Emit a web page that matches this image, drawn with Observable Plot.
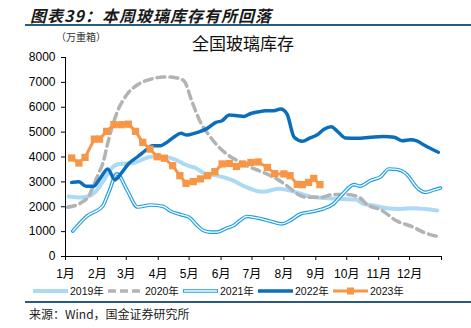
<!DOCTYPE html>
<html>
<head>
<meta charset="utf-8">
<script src="https://cdn.jsdelivr.net/npm/d3@7"></script>
<script src="https://cdn.jsdelivr.net/npm/@observablehq/plot@0.6"></script>
<style>
  html, body { margin: 0; padding: 0; background: #fff; }
  body { width: 471px; height: 328px; position: relative; overflow: hidden; color: #000;
         font-family: "Liberation Sans", "Noto Sans CJK SC", sans-serif; }
  .abs { position: absolute; white-space: nowrap; }
  #title { left: 30px; top: 3px; font-size: 16px; font-weight: bold; font-style: italic; letter-spacing: 1px;
           font-family: "Noto Sans CJK SC", sans-serif; color: #1a1a1a; }
  .rule { position: absolute; left: 25px; width: 446px; height: 2px; background: #2a5a7e; }
  #unit { left: 56px; top: 29px; font-size: 10px; font-family: "Noto Sans CJK SC", sans-serif; color: #333; }
  #ctitle { left: 0; width: 486px; text-align: center; top: 30px; font-size: 17px; font-family: "Noto Sans CJK SC", sans-serif; color: #111; }
  #chart { left: 0; top: 50px; }
  #legend { left: 0; top: 283px; }
  #source { left: 29px; top: 305px; font-size: 12px; font-family: "Noto Sans CJK SC", sans-serif; color: #222; }
</style>
</head>
<body>
<div id="title" class="abs">图表39：本周玻璃库存有所回落</div>
<div class="rule" style="top:24px"></div>
<div id="unit" class="abs">（万重箱）</div>
<div id="ctitle" class="abs">全国玻璃库存</div>
<div id="chart" class="abs"></div>
<div id="legend" class="abs"></div>
<div class="rule" style="top:301px; height:1.5px"></div>
<div id="source" class="abs">来源：Wind，国金证券研究所</div>
<script>
// ---- data (day of year, value in 万重箱) ----
const months = ["1月","2月","3月","4月","5月","6月","7月","8月","9月","10月","11月","12月"];
const monthStarts = [0,31,59,90,120,151,181,212,243,273,304,334,365];
const yTicks = [0,1000,2000,3000,4000,5000,6000,7000,8000];
const years = ["2019年","2020年","2021年","2022年","2023年"];

const days2019 = [3,15,24,31,37,44,52,60,68,76,83,92,100,107,115,121,125,136,147,160,176,191,207,218,231,238,251,267,282,288,299,312,325,338,349,361];
const vals2019 = [2410,2370,2450,2700,3050,3520,3720,3740,3780,3920,4010,4010,3980,3890,3720,3620,3580,3320,3250,3100,2780,2600,2720,2650,2490,2400,2350,2310,2290,2140,2050,1940,1910,1940,1910,1850];

const days2020 = [2,15,23,27,32,37,40,50,60,71,83,95,107,115,123,131,139,147,157,167,176,192,205,217,225,235,248,260,273,285,293,306,322,336,349,360];
const vals2020 = [1980,2160,2450,2850,3320,3850,4390,5790,6530,6930,7130,7220,7190,7060,6200,5400,4890,4480,4100,3850,3650,3380,3120,2780,2510,2380,2380,2490,2490,2380,2080,1880,1420,1210,950,820];

const days2021 = [7,21,36,42,50,60,70,83,95,102,112,120,128,134,141,147,157,163,170,176,186,199,210,218,228,238,249,260,269,280,286,296,306,314,322,330,343,349,358,364];
const vals2021 = [1020,1630,2020,2580,3320,2650,1990,2070,2010,1820,1680,1580,1240,1040,980,980,1150,1240,1470,1610,1550,1420,1310,1440,1710,1790,1900,2110,2510,2890,2830,3050,3210,3520,3500,3350,2700,2580,2680,2750];

const days2022 = [6,13,20,27,34,41,48,54,61,70,78,84,92,97,105,112,118,125,131,138,146,152,159,167,173,180,188,194,202,209,215,222,230,237,244,251,258,264,272,283,296,309,319,327,335,341,348,354,362];
const vals2022 = [2980,3010,2820,2820,3160,3520,3080,3340,3720,4010,4280,4450,4450,4550,4790,4950,4880,4950,5030,5160,5390,5460,5690,5660,5630,5750,5820,5860,5860,5930,5730,4790,4630,4760,4880,5120,5220,5030,4760,4750,4790,4820,4790,4650,4690,4650,4480,4350,4190];

const days2023 = [6,13,19,28,33,40,47,54,61,68,75,82,89,96,104,111,117,124,131,138,145,152,159,166,172,180,187,196,203,212,218,225,230,236,241,247];
const vals2023 = [3960,3760,3985,4720,4720,5030,5300,5300,5320,5030,4590,4320,4010,3950,3650,3250,2940,3010,3120,3250,3410,3720,3740,3620,3720,3780,3800,3580,3330,3320,3250,2900,2890,2980,3140,2890];

// ---- styles ----
const colors = {"2019年":"#acd9f3","2020年":"#b3b3b3","2021年":"#1f9de3","2022年":"#0a6ebd","2023年":"#f79646"};

const toRows = (days, vals) => days.map((d, i) => ({day: d, value: vals[i]}));
const s2019 = toRows(days2019, vals2019);
const s2020 = toRows(days2020, vals2020);
const s2021 = toRows(days2021, vals2021);
const s2022 = toRows(days2022, vals2022);
const s2023 = toRows(days2023, vals2023);

const chart = Plot.plot({
  width: 471, height: 230,
  marginTop: 7, marginBottom: 24, marginLeft: 65, marginRight: 30,
  style: {fontSize: "12px", fontFamily: "'Liberation Sans', 'Noto Sans CJK SC', sans-serif", color: "#000", background: "transparent"},
  x: {domain: [0, 365]},
  y: {domain: [0, 8000]},
  marks: [
    Plot.line(s2019, {x: "day", y: "value", stroke: colors["2019年"], strokeWidth: 4, curve: "monotone-x"}),
    Plot.line(s2020, {x: "day", y: "value", stroke: colors["2020年"], strokeWidth: 3.5, strokeDasharray: "8,5", curve: "monotone-x"}),
    Plot.line(s2021, {x: "day", y: "value", stroke: colors["2021年"], strokeWidth: 3.6, curve: "monotone-x"}),
    Plot.line(s2021, {x: "day", y: "value", stroke: "#fff", strokeWidth: 1.3, curve: "monotone-x"}),
    Plot.line(s2022, {x: "day", y: "value", stroke: colors["2022年"], strokeWidth: 3.5, curve: "monotone-x"}),
    Plot.line(s2023, {x: "day", y: "value", stroke: colors["2023年"], strokeWidth: 3}),
    Plot.dot(s2023, {x: "day", y: "value", symbol: "square", r: 4.1, fill: colors["2023年"], stroke: "none"}),
    Plot.ruleX([0], {stroke: "#000", strokeWidth: 1}),
    Plot.ruleY([0], {stroke: "#000", strokeWidth: 1}),
    Plot.axisY({ticks: yTicks, tickSize: 4, tickPadding: 6, label: null, stroke: "#000", fill: "#000", tickFormat: d => String(d)}),
    Plot.axisX({ticks: monthStarts, tickSize: 4, tickPadding: 9, label: null, stroke: "#000", fill: "#000",
      tickFormat: d => { const i = monthStarts.indexOf(d); return i >= 0 && i < 12 ? months[i] : ""; }})
  ]
});
document.getElementById("chart").appendChild(chart);

// ---- legend ----
const lg = d3.select("#legend").append("svg").attr("width", 471).attr("height", 16);
years.forEach((yr, i) => {
  const x0 = 33 + 75 * i, y = 8, w = 35;
  const g = lg.append("g");
  const c = colors[yr];
  if (yr === "2019年") g.append("line").attr("x1", x0).attr("x2", x0 + w).attr("y1", y).attr("y2", y).attr("stroke", c).attr("stroke-width", 4);
  if (yr === "2020年") g.append("line").attr("x1", x0).attr("x2", x0 + w).attr("y1", y).attr("y2", y).attr("stroke", c).attr("stroke-width", 3.5).attr("stroke-dasharray", "8,4");
  if (yr === "2021年") {
    g.append("line").attr("x1", x0).attr("x2", x0 + w).attr("y1", y).attr("y2", y).attr("stroke", c).attr("stroke-width", 3.6);
    g.append("line").attr("x1", x0 + 1).attr("x2", x0 + w - 1).attr("y1", y).attr("y2", y).attr("stroke", "#fff").attr("stroke-width", 1.3);
  }
  if (yr === "2022年") g.append("line").attr("x1", x0).attr("x2", x0 + w).attr("y1", y).attr("y2", y).attr("stroke", c).attr("stroke-width", 3.5);
  if (yr === "2023年") {
    g.append("line").attr("x1", x0).attr("x2", x0 + w).attr("y1", y).attr("y2", y).attr("stroke", c).attr("stroke-width", 3);
    g.append("rect").attr("x", x0 + w / 2 - 3.5).attr("y", y - 3.5).attr("width", 7).attr("height", 7).attr("fill", c);
  }
  g.append("text").attr("x", x0 + w + 2).attr("y", y).attr("dy", "0.35em")
    .attr("font-size", 10.5).attr("font-family", "'Liberation Sans', 'Noto Sans CJK SC', sans-serif").attr("fill", "#111").text(yr);
});
</script>
</body>
</html>
